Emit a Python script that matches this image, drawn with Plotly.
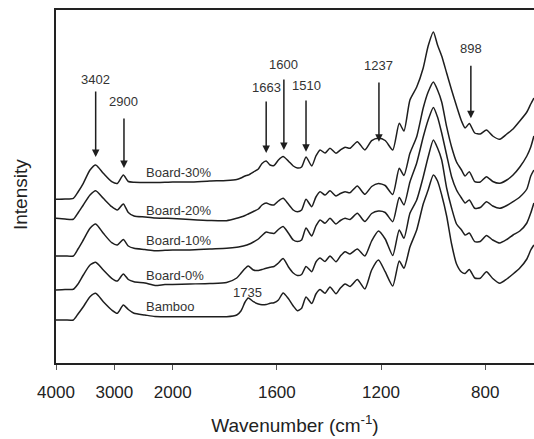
import plotly.graph_objects as go

# Wavenumber grid (cm-1) shared by all spectra
wavenumber = [4000, 3846, 3703, 3623, 3532, 3417, 3320, 3189, 3045, 2949,
              2846, 2761, 2663, 2475, 2303, 2132, 2000, 1934, 1857, 1793,
              1754, 1738, 1722, 1710, 1690, 1671, 1657, 1641, 1626, 1611,
              1594, 1576, 1556, 1537, 1521, 1505, 1488, 1466, 1450, 1434,
              1415, 1396, 1373, 1356, 1338, 1319, 1291, 1262, 1236, 1210,
              1184, 1155, 1130, 1112, 1089, 1063, 1038, 1019, 999, 983,
              967, 948, 929, 910, 891, 877, 861, 840, 819, 795,
              771, 744, 717, 693, 667, 640, 625, 613]

board30 = [163.7, 164, 164.7, 171, 179.7, 193, 198, 189.7, 181.3, 179.5,
           188, 181.5, 180.7, 180.5, 180.5, 180.7, 181, 181, 182, 182.5,
           183.5, 185, 187, 188, 191, 194, 199.5, 202, 198, 197.5,
           203, 206.5, 202, 197, 195, 196, 206, 197, 207, 213,
           210, 214.7, 209.7, 213, 215.7, 214.7, 221.3, 213, 222.3, 224.7,
           222.5, 213, 239.7, 232, 263, 276, 295, 317, 331, 318,
           307, 290, 273, 257, 242, 235, 239.5, 230, 229, 233,
           227, 223.7, 229, 234, 242, 251, 259, 265]

board20 = [144.7, 144, 143.7, 150, 158, 168, 172.3, 164.7, 156.3, 153,
           159, 150.5, 147, 146, 145, 144.7, 144.5, 143.5, 142.5, 142.3,
           144.7, 146, 147.5, 149, 151.5, 154, 158, 160, 158.5, 158,
           162, 164.7, 159, 153, 151.3, 153, 163.7, 156.3, 166, 171.3,
           168, 172.3, 167, 169.5, 171.3, 170.3, 177, 168.7, 176.5, 179.5,
           177.5, 168.5, 194.7, 187.5, 209.7, 226.3, 255, 271, 281, 273,
           261, 236.3, 216, 201, 193, 187, 191.3, 181.3, 181, 186.3,
           181.5, 179.7, 183, 188, 196, 207, 216, 227]

board10 = [107, 107, 107, 114, 123, 134.7, 139, 129.7, 120.3, 118,
           123.5, 117, 114.7, 113.5, 112.3, 112.7, 113, 113, 114, 114.7,
           115.7, 116.5, 117.5, 118.5, 121, 124, 127.5, 131, 130, 129.5,
           133.5, 136.5, 130, 123, 121.5, 123, 135, 127, 137, 143,
           139.7, 144.7, 139, 142.5, 144.7, 143.5, 149.7, 141.5, 149.5, 152,
           150.5, 141.3, 165.5, 158, 181, 200, 226, 243, 255.5, 246,
           230, 208, 186.3, 173, 165, 160, 163, 154.7, 155.5, 161.3,
           157, 154.7, 157.5, 161.3, 166, 174, 187, 193]

board0 = [73, 73.5, 73.7, 79, 88, 98, 100.7, 93, 84.7, 82,
          89, 83.5, 81.3, 80, 77.5, 78.5, 78.5, 79, 79.5, 80.5,
          85, 89.7, 94.5, 97, 93, 92.5, 93.5, 94.7, 95.7, 96.5,
          100, 104.5, 96.3, 90, 87.5, 88.5, 96.5, 91.3, 101, 105,
          101.5, 107, 101.3, 107, 111.3, 109, 114, 107, 122, 132,
          124, 107.5, 133, 124.7, 149.7, 163, 186, 206, 223, 215,
          203, 175, 155, 139, 133, 128, 130, 121.3, 121.5, 127.5,
          123, 120, 123.5, 128, 132, 140, 150, 160]

bamboo = [43, 43, 43, 49, 56.3, 66.3, 69.7, 61.3, 53, 49.7,
          58, 53.5, 49.7, 48, 46.5, 46.3, 46.3, 46.3, 46.3, 46.3,
          48, 52, 61, 65, 61.3, 59, 58.2, 58.5, 59.7, 60.3,
          63, 70, 64.5, 57, 52.3, 54.7, 66, 59.5, 69, 73.5,
          69.7, 76, 69.3, 75, 79, 76.5, 83.5, 74, 93, 103,
          91.3, 77, 102, 94.7, 116, 133, 159, 173, 188, 182,
          168, 147, 119, 99, 91, 89.5, 93.5, 85, 84.7, 91.3,
          84.5, 79.7, 84, 89, 95, 104, 113, 118]

series_names = ["Board-30%", "Board-20%", "Board-10%", "Board-0%", "Bamboo"]
series_values = [board30, board20, board10, board0, bamboo]
label_x = [2500, 2485, 2500, 2500, 2500]
label_y = [191, 152.3, 122.3, 87.3, 57]

tick_values = [4000, 3000, 2000, 1600, 1200, 800]
tick_labels = ["4000", "3000", "2000", "1600", "1200", "800"]

peak_labels = ["3402", "2900", "1663", "1600", "1510", "1237", "898"]
peak_x = [3320, 2835, 1641, 1573, 1488, 1208, 855]
arrow_tip = [206, 195, 210, 213, 211.3, 221.3, 244.7]
arrow_tail = [273, 246, 263, 285, 264, 282, 298.7]
peak_text_y = [284, 261.3, 275.7, 299, 278, 298, 314.7]

extra_label = "1735"
extra_x = 1711
extra_y = 70.3


def to_axis(w):
    # compressed scale above 2000 cm-1, expanded scale below
    if w >= 2000:
        return (4000 - w) / 17.14
    return (4000 - 2000) / 17.14 + (2000 - w) / 3.84


FONT = "Liberation Sans, Arial, sans-serif"
INK = "#1e1e1e"

fig = go.Figure()
for name, vals in zip(series_names, series_values):
    fig.add_trace(go.Scatter(
        x=[to_axis(w) for w in wavenumber], y=vals, mode="lines", name=name,
        line=dict(color=INK, width=1.5, shape="spline", smoothing=0.6),
        showlegend=False, hoverinfo="skip"))

annotations = []
for name, lx, ly in zip(series_names, label_x, label_y):
    annotations.append(dict(x=to_axis(lx), y=ly, text=name, showarrow=False,
                            xanchor="left", yanchor="middle",
                            font=dict(family=FONT, size=13, color="#333")))
annotations.append(dict(x=to_axis(extra_x), y=extra_y, text=extra_label,
                        showarrow=False, xanchor="center", yanchor="middle",
                        font=dict(family=FONT, size=13, color="#333")))
for lab, px, tip, tail, ty in zip(peak_labels, peak_x, arrow_tip, arrow_tail, peak_text_y):
    xv = to_axis(px)
    annotations.append(dict(x=xv, y=tip, ax=xv, ay=tail, axref="x", ayref="y",
                            text="", showarrow=True, arrowhead=2, arrowsize=1,
                            arrowwidth=1.5, arrowcolor=INK))
    annotations.append(dict(x=xv, y=ty, text=lab, showarrow=False,
                            xanchor="center", yanchor="middle",
                            font=dict(family=FONT, size=13, color="#333")))

# y-axis title placed as rotated text left of the frame
annotations.append(dict(xref="paper", yref="paper", x=-36 / 478, y=168 / 353,
                        text="Intensity", textangle=-90, showarrow=False,
                        xanchor="center", yanchor="middle",
                        font=dict(family=FONT, size=19, color="#222")))

fig.update_layout(
    width=534, height=439,
    margin=dict(l=56, r=0, t=10, b=76),
    paper_bgcolor="white", plot_bgcolor="white",
    annotations=annotations,
    font=dict(family=FONT, color="#222"),
    xaxis=dict(range=[0, 478], tickvals=[to_axis(t) for t in tick_values],
               ticktext=tick_labels, ticks="outside", ticklen=5, tickwidth=1,
               tickcolor="#555", showline=True, linecolor="#222", linewidth=2,
               mirror=True, showgrid=False, zeroline=False,
               tickfont=dict(family=FONT, size=17, color="#222"),
               ticklabelstandoff=8,
               title=dict(text="Wavenumber (cm<sup>-1</sup>)",
                          font=dict(family=FONT, size=19, color="#222"),
                          standoff=17)),
    yaxis=dict(range=[0, 353], showticklabels=False, ticks="", showline=True,
               linecolor="#222", linewidth=2, showgrid=False, zeroline=False),
)

fig.write_html("out.html")
